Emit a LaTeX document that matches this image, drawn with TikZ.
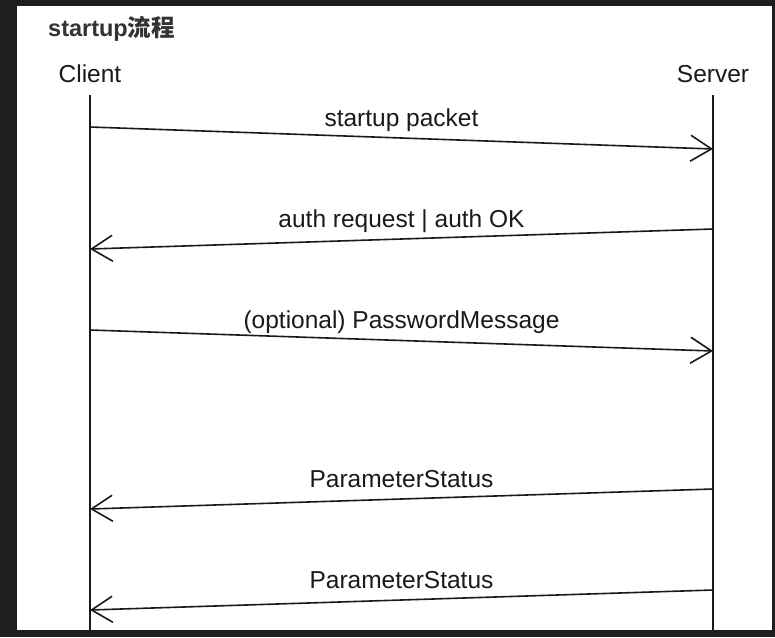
\documentclass[tikz,border=0pt]{standalone}
\usepackage{fontspec}
\setmainfont{Liberation Sans}
\newfontfamily\cjk{Noto Sans CJK SC}
\usepackage{xcolor}
\usetikzlibrary {
  arrows.meta,
  positioning,
}
\definecolor{frame}{HTML}{1E1E1E}
\definecolor{ink}{HTML}{1A1A1A}
\definecolor{heading}{HTML}{333333}
\tikzset{
  chart/.style = {
    x = 1pt,
    y = -1pt,
  },
  heading/.style = {
    anchor = base west,
    inner sep = 0pt,
    text = heading,
    font = \bfseries\fontsize{23.5}{28}\selectfont
  },
  party/.style = {
    anchor = base,
    inner sep = 0pt,
    text = ink,
    font = \fontsize{24.5}{28}\selectfont
  },
  lifeline/.style = {
    -,
    line width = 1.6pt,
    color = ink
  },
  msg/.style = {
    -{Straight Barb[length = 21pt, width = 26pt]},
    line width = 1.6pt,
    color = ink
  },
  lbl/.style = {
    midway,
    anchor = base,
    inner sep = 0pt,
    yshift = 12pt,
    text = ink,
    font = \fontsize{24.5}{28}\selectfont
  },
}

\begin{document}
\begin{tikzpicture}[chart]
  \fill[frame] (0,0) rectangle (775,637);
  \fill[white] (17,6) rectangle (772,630);

  \node[heading] (title) at (48,36) {startup{\cjk 流程}};
  \node[party] (client) at (90,82) {Client};
  \node[party] (server) at (713,82) {Server};

  % lifelines
  \coordinate (c0) at (90,95);
  \coordinate (c9) at (90,630);
  \coordinate (s0) at (713,95);
  \coordinate (s9) at (713,630);
  \draw[lifeline] (c0) -- (c9);
  \draw[lifeline] (s0) -- (s9);

  % messages
  \coordinate (c1) at (90,127);
  \coordinate (s1) at (713,149);
  \coordinate (s2) at (713,229);
  \coordinate (c2) at (90,249);
  \coordinate (c3) at (90,330);
  \coordinate (s3) at (713,351);
  \coordinate (s4) at (713,489);
  \coordinate (c4) at (90,509);
  \coordinate (s5) at (713,590);
  \coordinate (c5) at (90,610);
  \draw[msg] (c1) -- node[lbl] {startup packet} (s1);
  \draw[msg] (s2) -- node[lbl] {auth request | auth OK} (c2);
  \draw[msg] (c3) -- node[lbl] {(optional) PasswordMessage} (s3);
  \draw[msg] (s4) -- node[lbl] {ParameterStatus} (c4);
  \draw[msg] (s5) -- node[lbl] {ParameterStatus} (c5);
\end{tikzpicture}
\end{document}
